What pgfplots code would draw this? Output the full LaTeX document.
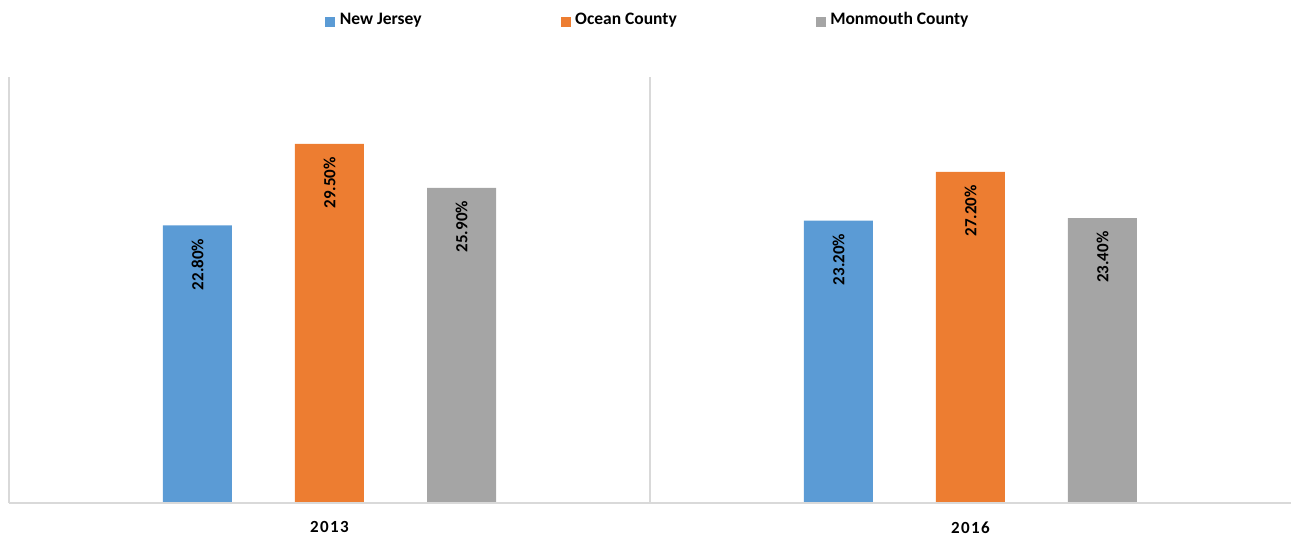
\documentclass[border=0pt]{standalone}
\usepackage{fontspec}
\setmainfont{Carlito}
\usepackage{pgfplots}
\pgfplotsset{compat=1.18}
\definecolor{cNJ}{HTML}{5B9BD5}
\definecolor{cOC}{HTML}{ED7D31}
\definecolor{cMC}{HTML}{A5A5A5}
\definecolor{axgray}{HTML}{D9D9D9}
\begin{document}
\begin{tikzpicture}
\useasboundingbox (0,0) rectangle (1291pt,536pt);
\begin{axis}[
  at={(9pt,33pt)}, anchor=south west,
  scale only axis, width=1282pt, height=426pt,
  xmin=-0.5, xmax=1.5, ymin=0, ymax=35,
  ybar, bar width=69pt,
  axis x line*=bottom, axis y line*=left,
  axis line style={-, draw=axgray, line width=1.2pt},
  ytick=\empty,
  xtick={0,1}, xticklabels={2013,2016},
  major tick length=0pt,
  x tick label style={font=\fontsize{17}{20}\selectfont\bfseries\addfontfeature{LetterSpace=8}, yshift=-15pt},
  extra x ticks={0.5}, extra x tick labels={},
  extra x tick style={grid=major, major grid style={draw=axgray, line width=1.2pt}},
  /pgf/number format/assume math mode=true,
  nodes near coords={\pgfmathprintnumber[fixed, fixed zerofill, precision=2, assume math mode=true]{\pgfplotspointmeta}\%},
  nodes near coords style={rotate=90, anchor=east, inner xsep=13pt, text=black, font=\fontsize{17}{19}\selectfont\bfseries},
  clip=false,
  legend columns=3,
  legend style={at={(0.4984,1.1295)}, anchor=center, draw=none, fill=none,
    font=\fontsize{17.5}{20}\selectfont\bfseries,
    nodes={text height=0.68em, text depth=0.2em},
    /tikz/every even column/.append style={column sep=137pt}},
  legend image code/.code={\fill[#1] (-0.5pt,-5pt) rectangle (9.5pt,5pt); \path (12pt,0pt);},
]
\addplot[fill=cNJ, draw=none, bar shift=-132pt] coordinates {(0,22.8) (1,23.2)};
\addplot[fill=cOC, draw=none, bar shift=0pt] coordinates {(0,29.5) (1,27.2)};
\addplot[fill=cMC, draw=none, bar shift=132pt] coordinates {(0,25.9) (1,23.4)};
\legend{New Jersey, Ocean County, Monmouth County}
\draw[axgray, line width=1.2pt] (rel axis cs:0,0) -- (rel axis cs:1,0);
\end{axis}
\end{tikzpicture}
\end{document}
